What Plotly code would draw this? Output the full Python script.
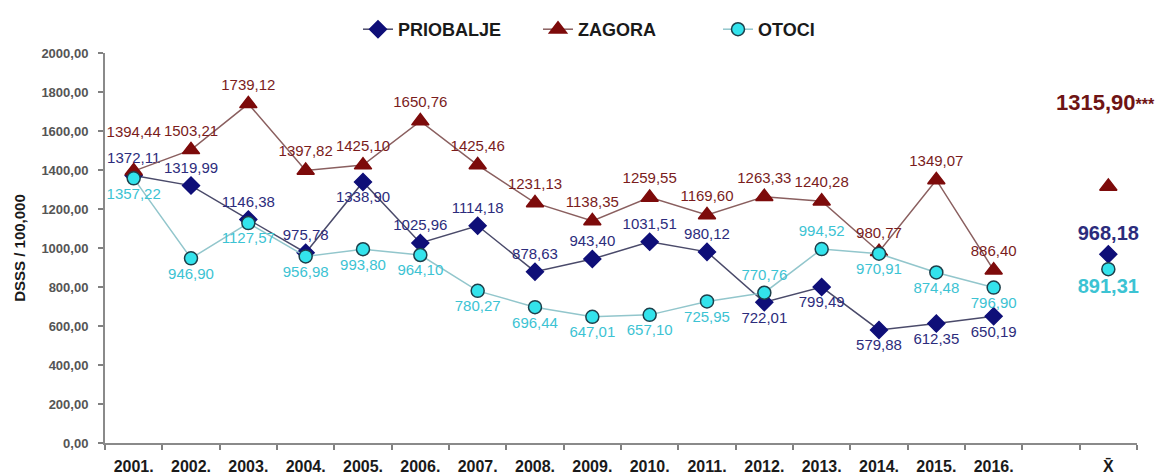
import plotly.graph_objects as go

# categories
years = ['2001.', '2002.', '2003.', '2004.', '2005.', '2006.', '2007.', '2008.',
         '2009.', '2010.', '2011.', '2012.', '2013.', '2014.', '2015.', '2016.']
gap_cat = ' '
mean_cat = 'X\u0304'

# series values (DSSS / 100,000)
priobalje = [1372.11, 1319.99, 1146.38, 975.78, 1338.90, 1025.96, 1114.18, 878.63,
             943.40, 1031.51, 980.12, 722.01, 799.49, 579.88, 612.35, 650.19]
zagora = [1394.44, 1503.21, 1739.12, 1397.82, 1425.10, 1650.76, 1425.46, 1231.13,
          1138.35, 1259.55, 1169.60, 1263.33, 1240.28, 980.77, 1349.07, 886.40]
otoci = [1357.22, 946.90, 1127.57, 956.98, 993.80, 964.10, 780.27, 696.44,
         647.01, 657.10, 725.95, 770.76, 994.52, 970.91, 874.48, 796.90]

priobalje_mean = 968.18
zagora_mean = 1315.90
otoci_mean = 891.31

y_ticks = [0, 200, 400, 600, 800, 1000, 1200, 1400, 1600, 1800, 2000]


def fmt(v):
    return f'{v:.2f}'.replace('.', ',')


x = years + [gap_cat, mean_cat]

# label placement per point (16 years + gap + mean)
TC, BC = 'top center', 'bottom center'
pos_p = [TC, TC, TC, TC, BC, TC, TC, TC, TC, TC, TC, BC, BC, BC, BC, BC, TC, TC]
pos_z = [TC] * 18
pos_o = [BC] * 11 + [TC, TC] + [BC] * 3 + [BC, BC]

FONT = 'Liberation Sans, Arial, sans-serif'
LBL = 15
MEAN_LBL = 20

series = [
    dict(name='PRIOBALJE', vals=priobalje, mean=priobalje_mean, pos=pos_p,
         symbol='diamond', size=13, color='#0f0f78', line='#4a4a6a',
         txt='#2c2c7c', outline='#0f0f78', show_mean_text=True),
    dict(name='ZAGORA', vals=zagora, mean=zagora_mean, pos=pos_z,
         symbol='triangle-up', size=15, color='#7d0b0b', line='#8a5f5f',
         txt='#7a1c1c', outline='#7d0b0b', show_mean_text=False),
    dict(name='OTOCI', vals=otoci, mean=otoci_mean, pos=pos_o,
         symbol='circle', size=13, color='#33e3ec', line='#92c6cc',
         txt='#3cc3d3', outline='#1d3f4a', show_mean_text=True),
]

fig = go.Figure()
for s in series:
    yv = s['vals'] + [None, s['mean']]
    text = [fmt(v) for v in s['vals']] + ['', fmt(s['mean']) if s['show_mean_text'] else '']
    if s['name'] == 'ZAGORA':
        # lift the 2001 label clear of the PRIOBALJE one below it
        text[0] = text[0] + '<br> '
    sizes = [LBL] * 17 + [MEAN_LBL]
    fig.add_trace(go.Scatter(
        x=x, y=yv, name=s['name'],
        mode='lines+markers+text',
        connectgaps=False,
        line=dict(color=s['line'], width=1.5),
        marker=dict(symbol=s['symbol'], size=s['size'], color=s['color'],
                    line=dict(color=s['outline'], width=1.5)),
        text=text, textposition=s['pos'],
        textfont=dict(family=FONT, size=sizes, color=s['txt'],
                      weight=[400] * 17 + [700]),
        cliponaxis=False,
        hoverinfo='skip',
    ))

fig.add_annotation(x=mean_cat, y=zagora_mean,
                   text=fmt(zagora_mean) + '<span style="font-size:16px">***</span>',
                   showarrow=False, yshift=84, xshift=-3,
                   font=dict(family=FONT, size=22, color='#6e1414', weight=700))

# page body adds an 8px offset, so the figure is shrunk by that much
fig.update_layout(
    width=1163, height=468,
    margin=dict(l=97, r=34, t=45, b=33, autoexpand=False),
    paper_bgcolor='white', plot_bgcolor='white',
    separators=',.',
    font=dict(family=FONT),
    showlegend=True,
    legend=dict(orientation='h', x=(350 - 97) / 1032, xanchor='left',
                y=1 + 42 / 390, yanchor='top', entrywidth=135,
                font=dict(size=18, color='#1a1a1a', weight=700),
                itemwidth=30, tracegroupgap=0, bgcolor='rgba(0,0,0,0)'),
    xaxis=dict(type='category', categoryorder='array', categoryarray=x,
               range=[-0.5, 17.5], tickson='boundaries', ticks='outside',
               ticklen=5, tickcolor='#808080', tickwidth=1.5,
               ticklabelstandoff=8,
               showline=True, linecolor='#8a8a8a', linewidth=2,
               showgrid=False, zeroline=False,
               tickfont=dict(size=16, color='#1a1a1a', weight=700)),
    yaxis=dict(range=[0, 2000], tickvals=y_ticks, tickformat='.2f',
               ticks='outside', ticklen=5, tickcolor='#808080', tickwidth=1.5,
               ticklabelstandoff=7,
               showline=True, linecolor='#8a8a8a', linewidth=2,
               showgrid=False, zeroline=False,
               tickfont=dict(size=13, color='#555555', weight=700),
               title=dict(text='DSSS / 100,000', standoff=12,
                          font=dict(size=15, color='#1a1a1a', weight=700))),
)

fig.write_html('out.html')
